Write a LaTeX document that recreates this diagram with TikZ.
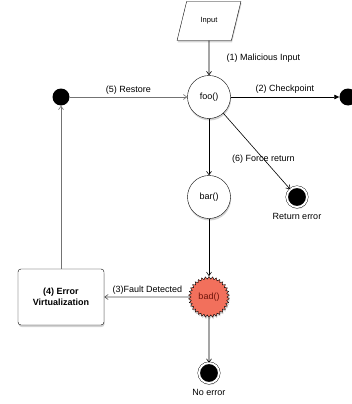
\documentclass[tikz,border=0pt]{standalone}
\usepackage{fontspec}
\setmainfont{Liberation Sans}
\usetikzlibrary{shapes.geometric,shapes.symbols,shadows,arrows.meta}

\begin{document}
\begin{tikzpicture}[x=1pt,y=-1pt,font=\fontsize{9}{11}\selectfont,
   shade/.style={drop shadow={opacity=.35,shadow xshift=.6pt,shadow yshift=-2pt}},
   func/.style={draw,circle,fill=white,minimum size=43pt,inner sep=0pt,shade},
   dot/.style={circle,fill=black,minimum size=17pt,inner sep=0pt},
   final/.style={circle,draw,fill=black,double=white,double distance=2pt,
     minimum size=20pt,inner sep=0pt,shade},
   flow/.style={-{Straight Barb[length=3.5pt,width=5pt]},line width=.6pt},
   back/.style={flow,draw=black!55}]
\useasboundingbox (0,0) rectangle (352,404);
\node[draw,trapezium,trapezium stretches=true,trapezium left angle=62,trapezium right angle=118,
  fill=white,minimum width=64pt,minimum height=39pt,inner sep=0pt,shade,
  font=\fontsize{7.5}{9}\selectfont] (input) at (209,21) {Input};
\node[func] (foo) at (209,97) {foo()};
\node[func] (bar) at (209,197) {bar()};
\node[starburst,starburst points=34,starburst point height=2.5pt,random starburst=0,
  draw,fill={rgb,255:red,242;green,112;blue,92},text={rgb,255:red,110;green,20;blue,10},
  minimum size=41pt,inner sep=0pt,shade] (bad) at (209,297) {bad()};
\node[final,label={[label distance=3pt]below:Return error}] (ret) at (297,197) {};
\node[final,label={[label distance=3pt]below:No error}] (noerr) at (209,373) {};
\node[dot] (chk) at (348,97) {};
\node[dot] (rst) at (61,97) {};
\node[draw,rounded corners=3pt,fill=white,minimum width=86pt,minimum height=56pt,
  align=center,font=\fontsize{9}{11}\selectfont\bfseries,shade] (virt) at (61,297)
  {(4) Error\\Virtualization};

\draw[flow] (input) -- node[right=14pt] {(1) Malicious Input} (foo);
\draw[line width=.6pt,-{Triangle[length=5pt,width=4.5pt]}] (foo) -- node[above] {(2) Checkpoint} (chk);
\draw[flow] (foo) -- (bar);
\draw[flow] (foo) -- node[pos=.6] {(6) Force return} (ret);
\draw[flow] (bar) -- (bad);
\draw[flow] (bad) -- (noerr);
\draw[back,draw=black!70] (bad) -- node[above,inner sep=2pt] {(3)Fault Detected} (virt);
\draw[back] (virt) -- (rst);
\draw[back] (rst) -- node[above,inner sep=2pt] {(5) Restore} (foo);
\end{tikzpicture}
\end{document}
